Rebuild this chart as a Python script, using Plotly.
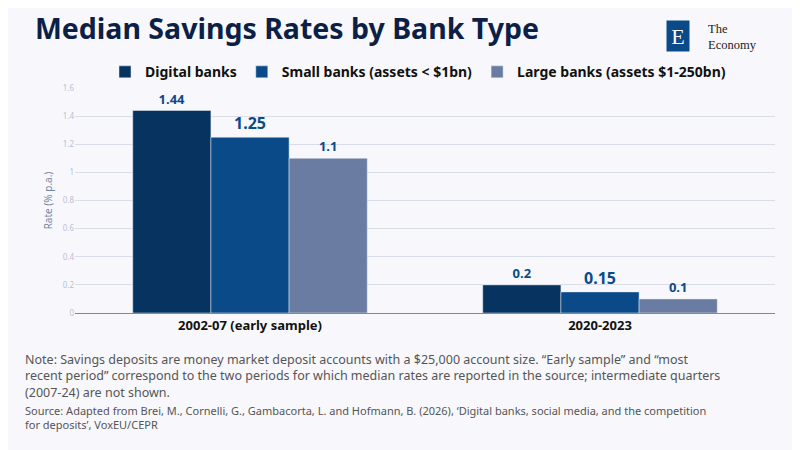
import plotly.graph_objects as go

periods = ["2002-07 (early sample)", "2020-2023"]
series = ["Digital banks", "Small banks (assets < $1bn)", "Large banks (assets $1-250bn)"]
values = [[1.44, 0.2], [1.25, 0.15], [1.1, 0.1]]
colors = ["#06335F", "#0B4A88", "#6B7CA3"]
label_sizes = [13, 16, 13]

fig = go.Figure()
for name, vals, col, ls in zip(series, values, colors, label_sizes):
    fig.add_trace(go.Bar(
        x=periods, y=vals, name="<b>" + name + "</b>", marker_color=col,
        text=["<b>" + str(v) + "</b>" for v in vals], textposition="outside",
        textfont=dict(color="#0B4A88", size=ls, family="Noto Sans"),
        cliponaxis=False,
    ))

bg = "#F8F8FC"
# page has an 8px body margin, so the figure is 792x442 and sits at (8, 8)
fig.update_layout(
    width=792, height=442,
    paper_bgcolor=bg, plot_bgcolor=bg,
    font=dict(family="Noto Sans", color="#222"),
    barmode="group", bargap=0.33, bargroupgap=0,
    margin=dict(l=67, r=25, t=80, b=137, autoexpand=False),
    title=dict(text="<b>Median Savings Rates by Bank Type</b>", x=0.034, y=0.975,
               xanchor="left", yanchor="top",
               font=dict(size=28.5, color="#0C1F47", family="Noto Sans")),
    legend=dict(orientation="h", x=0.49, xanchor="center", y=1.07, yanchor="middle",
                font=dict(size=14, color="#111"), traceorder="normal",
                itemwidth=30, bgcolor="rgba(0,0,0,0)"),
    yaxis=dict(range=[0, 1.6], dtick=0.2, gridcolor="#D8DDE8", zeroline=False, automargin=False,
               tickfont=dict(size=8, color="#B8C0D0"),
               title=dict(text="Rate (% p.a.)", font=dict(size=10, color="#7A84A0"), standoff=8)),
    xaxis=dict(showline=True, linecolor="#888", tickfont=dict(size=13, color="#111"), automargin=False,
               tickvals=periods, ticktext=["<b>" + p + "</b>" for p in periods]),
)

note = ("Note: Savings deposits are money market deposit accounts with a $25,000 account size. “Early sample” and “most<br>"
        "recent period” correspond to the two periods for which median rates are reported in the source; intermediate quarters<br>"
        "(2007-24) are not shown.")
source = ("Source: Adapted from Brei, M., Cornelli, G., Gambacorta, L. and Hofmann, B. (2026), ‘Digital banks, social media, and the competition<br>"
          "for deposits’, VoxEU/CEPR")
fig.add_annotation(text=note, xref="paper", yref="paper", x=-0.075, y=-0.16, xanchor="left", yanchor="top",
                   align="left", showarrow=False, font=dict(size=12.5, color="#555"))
fig.add_annotation(text=source, xref="paper", yref="paper", x=-0.075, y=-0.39, xanchor="left", yanchor="top",
                   align="left", showarrow=False, font=dict(size=11, color="#555"))

# logo
fig.add_annotation(text="E", xref="paper", yref="paper", x=0.8785, y=1.30, showarrow=False,
                   width=22, height=30, bgcolor="#0B4A88", borderpad=0,
                   font=dict(size=22, color="white", family="Liberation Serif"))
fig.add_annotation(text="The<br>Economy", xref="paper", yref="paper", x=0.902, y=1.30, xanchor="left",
                   align="left", showarrow=False,
                   font=dict(size=12.5, color="#222", family="Liberation Serif"))

fig.write_html("out.html")
